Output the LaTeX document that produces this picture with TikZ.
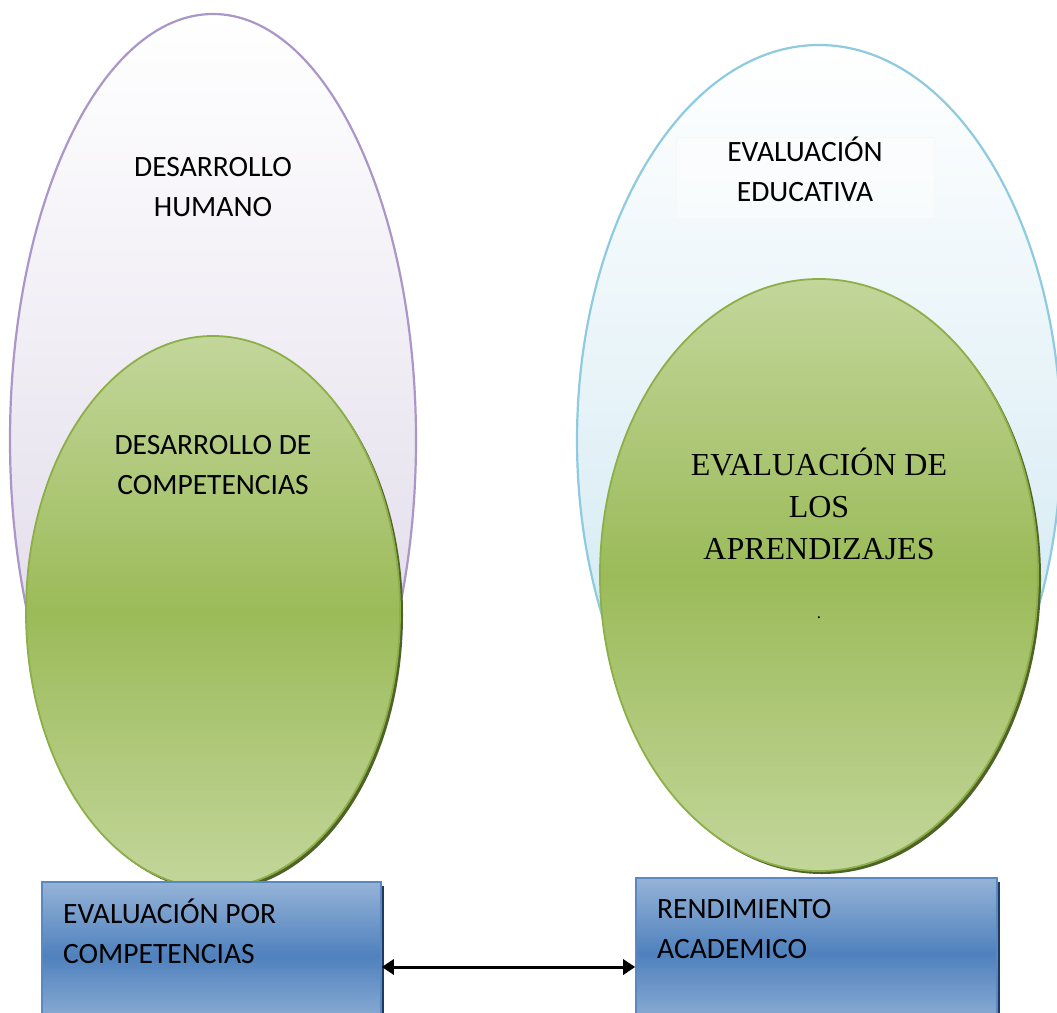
\documentclass[tikz,border=0pt]{standalone}
\usepackage{fontspec}
\setmainfont{Carlito}
\newfontfamily\serifT{Liberation Serif}
\usetikzlibrary{shapes.geometric,shadows,arrows.meta,calc}
\definecolor{purpline}{HTML}{AA97C8}
\definecolor{lavbot}{HTML}{D9D1E4}
\definecolor{blueline}{HTML}{8ECBDE}
\definecolor{bluebot}{HTML}{C8E4EF}
\definecolor{gLight}{HTML}{C3D69B}
\definecolor{gMid}{HTML}{9BBB59}
\definecolor{gLine}{HTML}{8CAF47}
\definecolor{gShadow}{HTML}{4F6228}
\definecolor{bLight}{HTML}{95B3D7}
\definecolor{bMid}{HTML}{4F81BD}
\definecolor{bLine}{HTML}{5A88C2}
\definecolor{bShadow}{HTML}{1F3A60}
\tikzset{
  outer/.style={ellipse, inner sep=0pt, line width=2.2pt},
  greenell/.style={ellipse, inner sep=0pt, draw=gLine, line width=1.8pt,
    top color=gLight, bottom color=gLight, middle color=gMid,
    general shadow={shadow xshift=3pt, shadow yshift=-3pt, fill=gShadow, opacity=1}},
  bluebox/.style={rectangle, inner sep=0pt, draw=bLine, line width=1.6pt,
    top color=bLight, bottom color=bLight, middle color=bMid,
    general shadow={shadow xshift=3pt, shadow yshift=-4pt, fill=bShadow, opacity=1}},
  sanslbl/.style={font=\fontsize{29.5}{40}\selectfont, align=center, inner sep=0pt},
  boxlbl/.style={font=\fontsize{29.5}{40}\selectfont, align=left, inner sep=0pt, anchor=west},
  seriflbl/.style={font=\serifT\fontsize{32}{42}\selectfont, align=center, inner sep=0pt},
}
\begin{document}
\begin{tikzpicture}[x=1pt,y=-1pt]
\useasboundingbox (0,0) rectangle (1057,1012);
\clip (0,0) rectangle (1057,1012);
\fill[white] (0,0) rectangle (1057,1012);
% outer ellipses
\node[outer, draw=purpline, top color=white, bottom color=lavbot,
  minimum width=406pt, minimum height=852pt] (outerL) at (213,440) {};
\node[outer, draw=blueline, top color=white, bottom color=bluebot,
  minimum width=484pt, minimum height=790pt] (outerR) at (819,440) {};
% faint text box
\node[rectangle, fill=white, fill opacity=0.45, draw=white!97!black, line width=0.5pt,
  minimum width=258pt, minimum height=81pt, inner sep=0pt] (tbox) at (805,177.5) {};
% labels in outer ellipses
\node[sanslbl] (lblDH) at (213,187) {DESARROLLO\\HUMANO};
\node[sanslbl] (lblEE) at (805,169) {EVALUACIÓN\\EDUCATIVA};
% green ellipses
\node[greenell, minimum width=374pt, minimum height=552pt] (greenL) at (213,612) {};
\node[greenell, minimum width=438pt, minimum height=592pt] (greenR) at (819,575) {};
\node[sanslbl] (lblDC) at (213,465) {DESARROLLO DE\\COMPETENCIAS};
\node[seriflbl] (lblEA) at (819,504) {EVALUACIÓN DE\\LOS\\APRENDIZAJES};
\node[seriflbl, font=\serifT\fontsize{17}{20}\selectfont] (dot) at (819,618) {.};
% boxes
\node[bluebox, minimum width=339pt, minimum height=148pt] (boxL) at (211.5,956) {};
\node[bluebox, minimum width=361pt, minimum height=152pt] (boxR) at (816.5,954) {};
\node[boxlbl] (lblEC) at (63,931) {EVALUACIÓN POR\\COMPETENCIAS};
\node[boxlbl] (lblRA) at (657,929.5) {RENDIMIENTO\\ACADEMICO};
% arrow
\coordinate (aL) at ([yshift=-11pt]boxL.east);
\draw[line width=3pt, {Triangle[length=12pt,width=15pt]}-{Triangle[length=12pt,width=15pt]}]
  (aL) -- (aL -| boxR.west);
\end{tikzpicture}
\end{document}
